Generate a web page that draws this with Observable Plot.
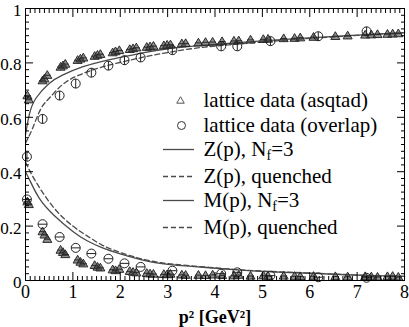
<!DOCTYPE html>
<html><head><meta charset="utf-8">
<script src="https://cdn.jsdelivr.net/npm/d3@7"></script>
<script src="https://cdn.jsdelivr.net/npm/@observablehq/plot@0.6"></script>
<style>body{margin:0;background:#fff} svg{display:block}</style>
</head><body><div id="chart"></div>
<script>
// lattice data (asqtad): p^2, Z, M
const asqtadP = [0.04,0.07,0.36,0.40,0.46,0.74,0.79,0.84,1.10,1.16,1.22,1.46,1.52,1.58,1.84,1.90,1.98,2.20,2.27,2.34,2.56,2.63,2.70,2.92,2.99,3.06,3.30,3.38,3.65,3.80,3.95,4.15,4.40,4.50,4.75,5.02,5.12,5.45,5.68,5.80,6.08,6.54,6.80,7.17,7.30,7.43,7.64,7.75,7.87];
const asqtadZ = [0.680,0.665,0.735,0.742,0.755,0.785,0.790,0.796,0.810,0.815,0.819,0.825,0.829,0.832,0.838,0.842,0.846,0.850,0.853,0.856,0.858,0.860,0.862,0.864,0.866,0.867,0.871,0.872,0.874,0.876,0.877,0.879,0.881,0.882,0.885,0.887,0.888,0.890,0.891,0.893,0.895,0.898,0.900,0.903,0.904,0.905,0.906,0.907,0.908];
const asqtadM = [0.290,0.280,0.180,0.168,0.152,0.112,0.104,0.096,0.076,0.068,0.062,0.056,0.050,0.047,0.040,0.037,0.042,0.034,0.031,0.029,0.027,0.025,0.024,0.023,0.022,0.024,0.021,0.020,0.020,0.019,0.021,0.019,0.018,0.020,0.017,0.018,0.016,0.017,0.016,0.015,0.016,0.015,0.014,0.015,0.014,0.013,0.015,0.016,0.013];
// lattice data (overlap)
const overlapP = [0.03,0.36,0.72,1.06,1.39,1.75,2.09,2.43,3.10,4.13,4.47,5.17,6.18,7.20];
const overlapZ = [0.455,0.594,0.680,0.724,0.764,0.790,0.810,0.820,0.847,0.861,0.861,0.880,0.898,0.916];
const overlapM = [0.298,0.207,0.160,0.120,0.099,0.080,0.063,0.050,0.036,0.025,0.030,0.018,0.012,0.010];
// curves
const zNfP = [0,0.08,0.22,0.5,0.78,1.2,1.62,2.0,2.5,3.0,3.5,4.0,5.0,6.0,7.0,8.0];
const zNfV = [0.536,0.610,0.670,0.724,0.755,0.785,0.806,0.820,0.838,0.852,0.861,0.868,0.881,0.892,0.902,0.911];
const zQP = [0,0.15,0.32,0.5,0.78,1.13,1.62,2.2,2.8,3.5,4.0,5.0,6.0,7.0,8.0];
const zQV = [0.505,0.560,0.630,0.670,0.720,0.755,0.785,0.810,0.832,0.852,0.862,0.877,0.890,0.901,0.911];
const mNfP = [0,0.1,0.3,0.6,1.0,1.3,1.6,2.0,2.7,3.5,4.4,5.2,6.2,7.0,8.0];
const mNfV = [0.400,0.365,0.300,0.240,0.180,0.146,0.122,0.098,0.067,0.052,0.040,0.032,0.025,0.020,0.015];
const mQP = [0,0.1,0.25,0.6,1.0,1.3,1.6,2.0,2.7,3.5,4.4,5.2,6.2,7.0,8.0];
const mQV = [0.435,0.400,0.354,0.267,0.200,0.164,0.132,0.103,0.070,0.054,0.041,0.033,0.026,0.020,0.015];
// ticks
const xTicks = [0,1,2,3,4,5,6,7,8];
const xTickLabels = ["0","1","2","3","4","5","6","7","8"];
const yTicks = [0,0.2,0.4,0.6,0.8,1];
const yTickLabels = ["0","0.2","0.4","0.6","0.8","1"];
const legendLabels = ["lattice data (asqtad)","lattice data (overlap)","Z(p), Nf=3","Z(p), quenched","M(p), Nf=3","M(p), quenched"];
const xLabel = "p² [GeV²]";

// layout / style
const W = 409, H = 327;
const legendRowDy = [92, 117, 141, 168, 192, 219];
const legendTextDx = 178, legendSymDx = 155;
const lineColor = "#4a4a4a", markColor = "#2a2a2a";
const font = "Liberation Serif, Times New Roman, serif";

const xMinor = d3.range(0, 8.0001, 0.1).filter(v => Math.abs(v - Math.round(v)) > 1e-6);
const yMinor = d3.range(0, 1.0001, 0.025).filter(v => Math.abs(v*5 - Math.round(v*5)) > 1e-6);

const triBar = {draw(c, size){ const r = Math.sqrt(size/Math.PI);
  c.moveTo(0,-r*1.05); c.lineTo(r*1.05,r*0.75); c.lineTo(-r*1.05,r*0.75); c.closePath();
  c.moveTo(-r*0.8,0.1); c.lineTo(r*0.8,0.1);}};
const triPlain = {draw(c, size){ const r = Math.sqrt(size/Math.PI);
  c.moveTo(0,-r*1.05); c.lineTo(r*1.05,r*0.75); c.lineTo(-r*1.05,r*0.75); c.closePath();}};
const circV = {draw(c, size){ const r = Math.sqrt(size/Math.PI);
  c.moveTo(r,0); c.arc(0,0,r,0,2*Math.PI); c.moveTo(0,-r); c.lineTo(0,r);}};
const circH = {draw(c, size){ const r = Math.sqrt(size/Math.PI);
  c.moveTo(r,0); c.arc(0,0,r,0,2*Math.PI); c.moveTo(-r,0); c.lineTo(r,0);}};
const circPlain = {draw(c, size){ const r = Math.sqrt(size/Math.PI);
  c.moveTo(r,0); c.arc(0,0,r,0,2*Math.PI);}};
const hLine = {draw(c){ c.moveTo(-15.5,0); c.lineTo(15.5,0);}};

const asq = asqtadP.map((p,i)=>({p, z: asqtadZ[i], m: asqtadM[i]}));
const ovl = overlapP.map((p,i)=>({p, z: overlapZ[i], m: overlapM[i]}));
const zip = (P,V) => P.map((p,i)=>({p, v: V[i]}));

const legendMarks = [];
legendLabels.forEach((lab,i)=>{
  legendMarks.push(Plot.text([lab], {frameAnchor:"top-left", dx: legendTextDx, dy: legendRowDy[i], textAnchor:"start", lineAnchor:"middle", fontSize: 21, fill:"#000"}));
});
legendMarks.push(Plot.dot([0], {frameAnchor:"top-left", dx: legendSymDx, dy: legendRowDy[0], symbol: triPlain, r: 3.6, stroke: "#555", strokeWidth: 1, fill: "none"}));
legendMarks.push(Plot.dot([0], {frameAnchor:"top-left", dx: legendSymDx+1, dy: legendRowDy[1], symbol: circPlain, r: 4, stroke: "#333", strokeWidth: 1, fill: "none"}));
[[2,null],[3,"5,3"],[4,null],[5,"5,3"]].forEach(([i,dash])=>{
  legendMarks.push(Plot.dot([0], {frameAnchor:"top-left", dx: 153, dy: legendRowDy[i], symbol: hLine, r: 5, stroke: lineColor, strokeWidth: 1.3, strokeDasharray: dash, fill:"none"}));
});

const chart = Plot.plot({
  width: W, height: H,
  marginLeft: 25, marginRight: 5, marginTop: 8, marginBottom: 47,
  style: {fontFamily: font, background: "#fff", color: "#000"},
  x: {domain: [0, 8]},
  y: {domain: [0, 1]},
  marks: [
    // data
    Plot.line(zip(zNfP, zNfV), {x:"p", y:"v", stroke: lineColor, strokeWidth: 1.3, curve: "natural"}),
    Plot.line(zip(zQP, zQV), {x:"p", y:"v", stroke: lineColor, strokeWidth: 1.3, strokeDasharray: "5,3", curve: "natural"}),
    Plot.line(zip(mNfP, mNfV), {x:"p", y:"v", stroke: lineColor, strokeWidth: 1.3, curve: "natural"}),
    Plot.line(zip(mQP, mQV), {x:"p", y:"v", stroke: lineColor, strokeWidth: 1.3, strokeDasharray: "5,3", curve: "natural"}),
    Plot.dot(asq, {x:"p", y:"z", symbol: triBar, r: 4.3, stroke: markColor, strokeWidth: 1, fill: "#444", fillOpacity: 0.6}),
    Plot.dot(asq, {x:"p", y:"m", symbol: triBar, r: 4.3, stroke: markColor, strokeWidth: 1, fill: "#444", fillOpacity: 0.6}),
    Plot.dot(ovl, {x:"p", y:"z", symbol: circV, r: 4.5, stroke: "#222", strokeWidth: 1, fill: "none"}),
    Plot.dot(ovl, {x:"p", y:"m", symbol: circH, r: 4.5, stroke: "#222", strokeWidth: 1, fill: "none"}),
    // frame
    Plot.frame({stroke: "#000", strokeWidth: 1}),
    // tick labels
    Plot.axisX(xTicks, {anchor: "bottom", tickSize: 0, tickPadding: 5, fontSize: 18, tickFormat: d=>xTickLabels[xTicks.indexOf(d)], label: null}),
    Plot.axisY(yTicks, {anchor: "left", tickSize: 0, tickPadding: 4, dy: 2, fontSize: 17, tickFormat: d=>yTickLabels[yTicks.indexOf(d)], label: null}),
    // inward major ticks
    Plot.axisX(xTicks, {anchor: "bottom", tickSize: -8, tickFormat: ()=>"", label: null}),
    Plot.axisX(xTicks, {anchor: "top", tickSize: -8, tickFormat: ()=>"", label: null}),
    Plot.axisY(yTicks, {anchor: "left", tickSize: -8, tickFormat: ()=>"", label: null}),
    Plot.axisY(yTicks, {anchor: "right", tickSize: -8, tickFormat: ()=>"", label: null}),
    // inward minor ticks
    Plot.axisX(xMinor, {anchor: "bottom", tickSize: -4, tickFormat: ()=>"", label: null}),
    Plot.axisX(xMinor, {anchor: "top", tickSize: -4, tickFormat: ()=>"", label: null}),
    Plot.axisY(yMinor, {anchor: "left", tickSize: -4, tickFormat: ()=>"", label: null}),
    Plot.axisY(yMinor, {anchor: "right", tickSize: -4, tickFormat: ()=>"", label: null}),
    // axis label
    Plot.text([xLabel], {frameAnchor: "bottom", dy: 37, fontWeight: "bold", fontSize: 18, lineAnchor: "middle", fill: "#000"}),
    ...legendMarks
  ]
});
document.getElementById("chart").appendChild(chart);

// subscript f in "Nf"
chart.querySelectorAll("text").forEach(t => {
  const s = t.textContent;
  if (s.includes("Nf=")) {
    const [pre, post] = s.split("Nf");
    t.textContent = "";
    const NS = "http://www.w3.org/2000/svg";
    const a = document.createElementNS(NS, "tspan"); a.textContent = pre + "N";
    const b = document.createElementNS(NS, "tspan"); b.textContent = "f"; b.setAttribute("dy", "4"); b.setAttribute("font-size", "14");
    const c = document.createElementNS(NS, "tspan"); c.textContent = post; c.setAttribute("dy", "-4");
    t.append(a, b, c);
  }
});
</script>
</body></html>
